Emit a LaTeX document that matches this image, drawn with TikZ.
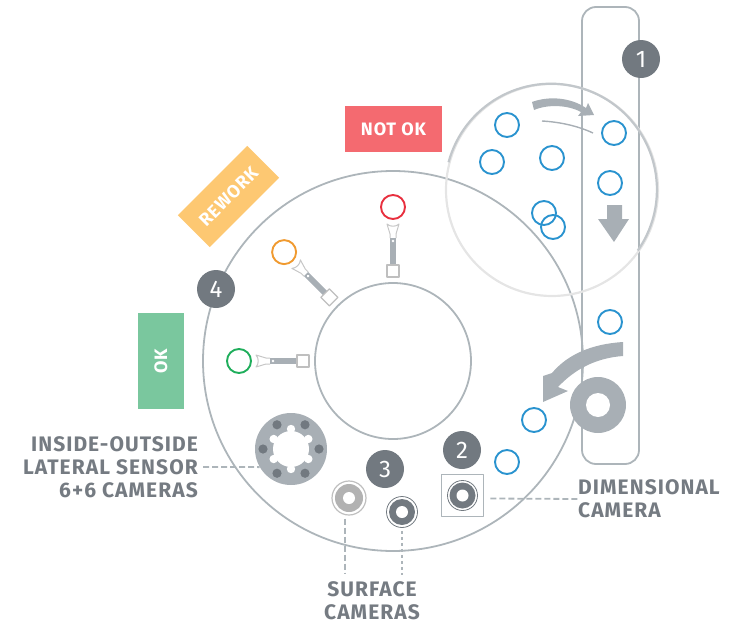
\documentclass[tikz,border=0pt]{standalone}
\usepackage{fontspec}
\setmainfont[LetterSpace=5]{Fira Sans}
\newfontfamily\digitfont{Fira Sans}
\usetikzlibrary{positioning}
\definecolor{steelgray}{HTML}{A8AFB5}
\definecolor{linegray}{HTML}{ADB5BA}
\definecolor{darkgray}{HTML}{727980}
\definecolor{textgray}{HTML}{757B82}
\definecolor{partblue}{HTML}{2A93CF}
\definecolor{notokred}{HTML}{F46A70}
\definecolor{reworkorange}{HTML}{FDC872}
\definecolor{okgreen}{HTML}{7AC79E}
\tikzset{
  part/.style={circle,draw=partblue,line width=1.9pt,minimum size=24pt,inner sep=0pt},
  badge/.style={circle,fill=darkgray,text=white,minimum size=38pt,inner sep=0pt,font=\digitfont\fontsize{24}{24}\selectfont},
  flag/.style={fill=#1,text=white,inner sep=0pt,font=\bfseries\fontsize{18}{18}\selectfont},
  caption/.style={text=textgray,inner sep=0pt,font=\bfseries\fontsize{21}{23}\selectfont},
  leader/.style={draw=linegray,line width=1.8pt,dash pattern=on 6pt off 3pt},
  ring/.style={circle,inner sep=0pt,minimum size=#1},
}
\begin{document}
\begin{tikzpicture}[x=1pt,y=-1pt,line join=round]
  \useasboundingbox (0,0) rectangle (737,624);
  % belt
  \draw[linegray,line width=1.8pt,rounded corners=14pt] (582,7) rectangle (639,464);
  % table
  \coordinate (centre) at (393,361);
  \node[circle,draw=linegray,line width=1.8pt,minimum size=380pt,inner sep=0pt] (table) at (centre) {};
  \node[circle,draw=linegray,line width=1.8pt,minimum size=156pt,inner sep=0pt] (hub) at (centre) {};
  % magnified view
  \node[circle,draw=black!10,line width=2.2pt,minimum size=212pt,inner sep=0pt] (lens) at (552,190) {};
  \draw[linegray!75,line width=2.2pt] (lens.165) arc[start angle=165,end angle=-35,radius=106pt];
  % parts
  \node[part] (p1) at (507,125) {};
  \node[part] (p2) at (492,162) {};
  \node[part] (p3) at (552,158) {};
  \node[part] (p4) at (614,133) {};
  \node[part] (p5) at (610,183) {};
  \node[part] (p6) at (544,213) {};
  \node[part] (p7) at (553,227) {};
  \node[part] (p8) at (610,322) {};
  \node[part] (p9) at (534,420) {};
  \node[part] (p10) at (507,462) {};
  % arrows
  \fill[steelgray] (532,102) .. controls (548,96) and (570,97) .. (586,108) -- (588,103) -- (594,115) -- (578,116) -- (581,112) .. controls (568,105) and (548,104) .. (534,110) -- cycle;
  \draw[steelgray,line width=1.4pt] (542,121) .. controls (560,122) and (578,126) .. (593,133);
  \fill[steelgray] (607,205) -- (622,205) -- (622,219) -- (629,219) -- (614,242) -- (598,219) -- (607,219) -- cycle;
  \node[ring=56pt,fill=steelgray] (dimring) at (598,405) {};
  \node[ring=24pt,fill=white] at (dimring) {};
  \fill[steelgray] (623,342) .. controls (592,344) and (568,354) .. (552,373) -- (543,376) -- (543,402) -- (568,391) -- (558,387) .. controls (575,369) and (596,358) .. (623,356) -- cycle;
  % inspection arms
  \foreach \ang/\col/\nm in {0/E8303F/red,45/F09A30/orange,90/20AE5C/green}{
    \definecolor{armcol}{HTML}{\col}
    \begin{scope}[shift={(centre)},rotate=\ang]
      \fill[steelgray] (-3,-123) rectangle (3,-96);
      \fill[white] (0,-120) circle (1.3pt);
      \draw[black!22,line width=1pt] (-3,-123) -- (-3,-127) -- (-6,-137) .. controls (-3,-134) and (3,-134) .. (6,-137) -- (3,-127) -- (3,-123);
      \node[draw=black!25,fill=white,line width=1.2pt,minimum size=12pt,inner sep=0pt,rotate=\ang] (base\nm) at (0,-90) {};
      \node[circle,draw=armcol,line width=1.9pt,minimum size=24pt,inner sep=0pt] (sensor\nm) at (0,-154) {};
    \end{scope}
  }
  % lateral sensor
  \node[ring=72pt,fill=steelgray] (lateral) at (291,449) {};
  \node[ring=36pt,fill=white] at (lateral) {};
  \foreach \ang in {30,90,...,330}{
    \fill[white] (lateral.center) ++(\ang:20) circle (4.2pt);
    \fill[darkgray] (lateral.center) ++(\ang+30:28) circle (4.6pt);
  }
  % cameras
  \node[draw=linegray,line width=1.6pt,minimum size=42pt,inner sep=0pt] (dimbox) at (462.5,495.5) {};
  \node[ring=30pt,draw=darkgray,line width=.8pt] (dimcam) at (dimbox) {};
  \node[ring=26pt,fill=darkgray] at (dimcam) {};
  \node[ring=12pt,fill=white] at (dimcam) {};
  \node[ring=34pt,draw=black!25,line width=1.2pt] (camlight) at (349,498) {};
  \node[ring=28pt,fill=black!30] at (camlight) {};
  \node[ring=12pt,fill=white] at (camlight) {};
  \node[ring=31pt,draw=darkgray,line width=.8pt] (camdark) at (402,512) {};
  \node[ring=26pt,fill=darkgray] at (camdark) {};
  \node[ring=12pt,fill=white] at (camdark) {};
  % result flags
  \node[flag=notokred,minimum width=97pt,minimum height=46pt] (notok) at (393.5,129) {NOT OK};
  \node[flag=reworkorange,minimum width=98pt,minimum height=45pt,rotate=45] (rework) at (228.5,196.5) {REWORK};
  \node[flag=okgreen,minimum width=46pt,minimum height=96pt] (okflag) at (161,361) {\rotatebox{90}{OK}};
  % captions
  \node[caption,align=right,anchor=east] (lateraltxt) at (198,467) {INSIDE-OUTSIDE\\LATERAL SENSOR\\6+6 CAMERAS};
  \node[caption,align=left,anchor=west] (dimtxt) at (578,499) {DIMENSIONAL\\CAMERA};
  \node[caption,align=center,anchor=north] (surfacetxt) at (372,581) {SURFACE\\CAMERAS};
  \draw[leader] (lateraltxt.east) ++(5,0) -- (lateral.210);
  \draw[leader] (dimbox.east) ++(6,3) -- (dimtxt.west);
  \draw[leader] (camlight.south) ++(-4,3) -- ++(0,55);
  \draw[leader,dash pattern=on 3pt off 3pt] (camdark.south) ++(0,3) -- ++(0,44);
  % step numbers
  \node[badge] (step1) at (641,59) {1};
  \node[badge] (step2) at (462,450) {2};
  \node[badge] (step3) at (385,469) {3};
  \node[badge] (step4) at (216,289) {4};
\end{tikzpicture}
\end{document}
